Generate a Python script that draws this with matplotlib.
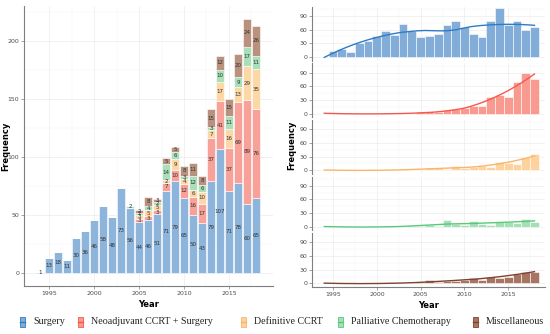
import matplotlib
matplotlib.use("Agg")
import numpy as np
import matplotlib.pyplot as plt
from matplotlib.patches import Rectangle
from matplotlib.lines import Line2D

# ── data ────────────────────────────────────────────────────────────────────
years = list(range(1994, 2019))
surgery = [1, 13, 18, 11, 30, 36, 46, 58, 48, 73, 56, 44, 46, 51, 71, 79, 65,
           50, 43, 79, 107, 71, 78, 60, 65]
neo_ccrt = [0] * 10 + [0, 3, 3, 3, 7, 10, 12, 16, 17, 37, 41, 37, 69, 89, 76]
def_ccrt = [0] * 10 + [0, 3, 5, 5, 2, 9, 4, 6, 10, 7, 17, 16, 13, 29, 35]
palliative = [0] * 10 + [2, 2, 4, 2, 14, 6, 3, 12, 6, 3, 10, 11, 9, 17, 11]
misc = [0] * 10 + [0, 2, 8, 3, 5, 5, 8, 11, 8, 15, 12, 15, 20, 24, 26]

labels = ["Surgery", "Neoadjuvant CCRT + Surgery", "Definitive CCRT",
          "Palliative Chemotherapy", "Miscellaneous"]
series = [surgery, neo_ccrt, def_ccrt, palliative, misc]

# ── colours ─────────────────────────────────────────────────────────────────
C_BAR = ["#8DB4DA", "#F8A198", "#FDD8A6", "#A9E0B9", "#B8917F"]
C_HIST = ["#82ADD8", "#F99A90", "#FDD29C", "#A5DFB5", "#A87562"]
C_LINE = ["#2F7CC2", "#F25A4F", "#F8B66C", "#58C97B", "#7E4231"]
C_GRID = "#EBEBEB"
C_AXIS = "#7F7F7F"
C_TICK = "#4D4D4D"

W, H = 550, 334
fig = plt.figure(figsize=(W / 100, H / 100), dpi=100)
fig.patch.set_facecolor("white")


def loess(x, y, xs, span=0.75):
    x = np.asarray(x, float)
    y = np.asarray(y, float)
    q = int(np.ceil(span * len(x)))
    out = []
    for x0 in xs:
        d = np.abs(x - x0)
        h = np.sort(d)[q - 1]
        w = np.clip(1 - (d / h) ** 3, 0, None) ** 3
        c = np.polyfit(x - x0, y, 2, w=np.sqrt(w))
        out.append(c[-1])
    return np.array(out)


def style_axis(ax, bottom=True):
    for s in ("top", "right"):
        ax.spines[s].set_visible(False)
    ax.spines["left"].set_color(C_AXIS)
    ax.spines["left"].set_linewidth(0.8)
    ax.spines["bottom"].set_color(C_AXIS)
    ax.spines["bottom"].set_linewidth(0.8)
    ax.spines["bottom"].set_visible(bottom)
    ax.tick_params(axis="both", labelsize=4.5, colors=C_AXIS, length=2,
                   width=0.5, labelcolor=C_TICK, pad=1.5)
    ax.tick_params(which="minor", length=0)
    ax.grid(True, which="major", color=C_GRID, lw=0.5)
    ax.grid(True, which="minor", color="#F5F5F5", lw=0.35)
    ax.set_axisbelow(True)


# ── left: stacked bars ──────────────────────────────────────────────────────
axL = fig.add_axes([24 / W, 1 - 286 / H, 249 / W, 280 / H])
bottom = np.zeros(len(years))
for vals, col in zip(series, C_BAR):
    vals = np.asarray(vals)
    axL.bar(years, vals, bottom=bottom, width=0.9, color=col,
            edgecolor="white", linewidth=0.4, zorder=2)
    for yr, b, v in zip(years, bottom, vals):
        if v > 0:
            axL.text(yr, b + v / 2, str(v), ha="center", va="center",
                     fontsize=4, color="#333333", zorder=3)
    bottom = bottom + vals

axL.set_xlim(1992.2, 2019.9)
axL.set_ylim(-11, 230)
axL.set_xticks([1995, 2000, 2005, 2010, 2015])
axL.set_xticks([1997.5, 2002.5, 2007.5, 2012.5, 2017.5], minor=True)
axL.set_yticks([0, 50, 100, 150, 200])
axL.set_yticks([25, 75, 125, 175, 225], minor=True)
style_axis(axL)
axL.set_xlabel("Year", fontsize=6, fontweight="bold", labelpad=3)
fig.text(6 / W, 1 - 146 / H, "Frequency", rotation=90, ha="center",
         va="center", fontsize=6, fontweight="bold")

# ── right: faceted histograms with smooth ───────────────────────────────────
xs = np.linspace(1994, 2018, 200)
y0s = [57, 113.6, 170.2, 226.8, 283.4]
scale = 0.456
for k, (vals, fc, lc) in enumerate(zip(series, C_HIST, C_LINE)):
    top = y0s[k] - 110 * scale
    bot = y0s[k] + 8 * scale
    ax = fig.add_axes([312 / W, 1 - bot / H, 233 / W, (bot - top) / H])
    ax.bar(years, vals, width=1.0, color=fc, edgecolor="white",
           linewidth=0.4, zorder=2)
    ax.plot(xs, loess(years, vals, xs), color=lc, lw=1.0, zorder=3)
    ax.set_xlim(1992.6, 2019.2)
    ax.set_ylim(-8, 110)
    ax.set_yticks([0, 30, 60, 90])
    ax.set_yticks([15, 45, 75, 105], minor=True)
    ax.set_xticks([1995, 2000, 2005, 2010, 2015])
    ax.set_xticks([1997.5, 2002.5, 2007.5, 2012.5, 2017.5], minor=True)
    last = k == len(series) - 1
    style_axis(ax, bottom=last)
    if not last:
        ax.tick_params(axis="x", which="both", length=0, labelbottom=False)
    else:
        ax.set_xlabel("Year", fontsize=6, fontweight="bold", labelpad=3)

fig.text(292 / W, 1 - 145 / H, "Frequency", rotation=90, ha="center",
         va="center", fontsize=6, fontweight="bold")

# ── legend ──────────────────────────────────────────────────────────────────
key_x = [22, 80, 243, 340, 475]
ly = 322
for lab, kx, fc, lc in zip(labels, key_x, C_HIST, C_LINE):
    fig.add_artist(Rectangle(((kx - 2.5) / W, 1 - (ly + 5) / H), 5 / W, 10 / H,
                             transform=fig.transFigure, facecolor=fc,
                             edgecolor=lc, linewidth=0.6))
    fig.add_artist(Line2D([(kx - 2.5) / W, (kx + 2.5) / W],
                          [1 - ly / H, 1 - ly / H], transform=fig.transFigure,
                          color=lc, lw=1.0))
    fig.text((kx + 11) / W, 1 - ly / H, lab, ha="left", va="center",
             fontsize=7.2, family="Liberation Serif", color="#222222")

fig.savefig("out.png", dpi=100, facecolor="white")
